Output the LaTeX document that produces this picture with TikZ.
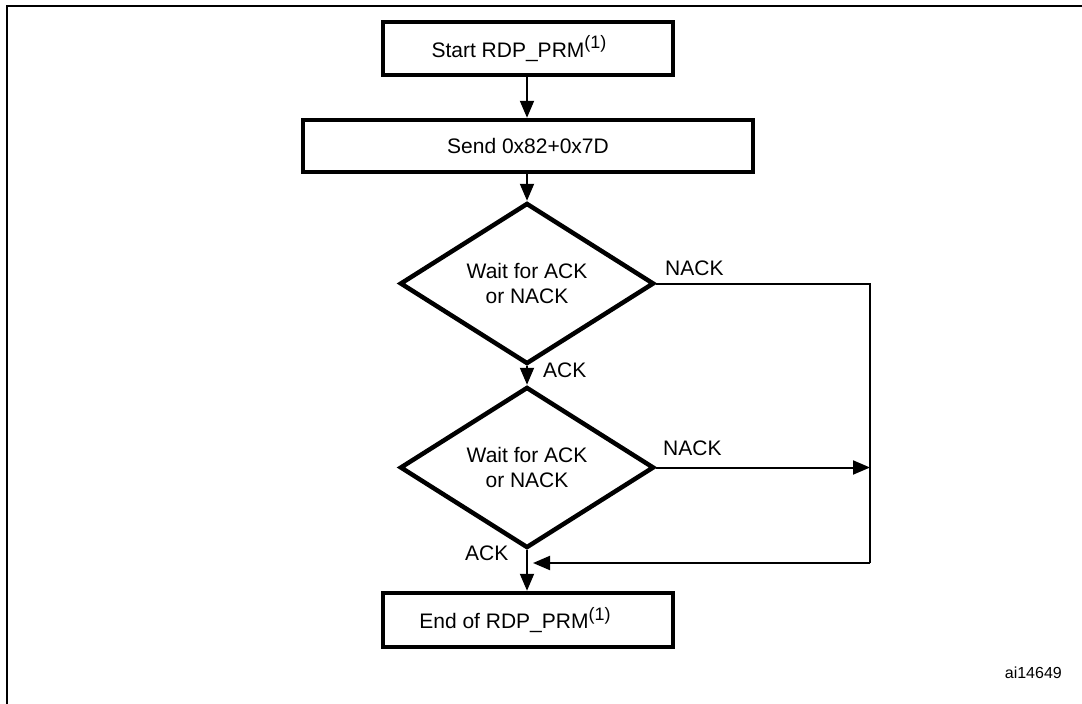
\documentclass[tikz,border=0pt]{standalone}
\usepackage{fontspec}
\setmainfont{Liberation Sans}
\usetikzlibrary{shapes.geometric,arrows.meta}

% raised footnote mark, as used in the box titles
\newcommand{\fnmark}[1]{\raisebox{0.42em}{\fontsize{18}{18}\selectfont(#1)}}

\tikzset{
  box/.style={draw, line width=4.5pt, rectangle, inner sep=0pt, align=center,
              font=\fontsize{21}{26}\selectfont},
  decision/.style={draw, line width=4.5pt, diamond, inner sep=0pt, align=center,
              minimum width=254pt, minimum height=137pt,
              font=\fontsize{21}{25}\selectfont},
  flow/.style={line width=2pt, -{Triangle[length=17pt,width=14pt]}},
  plain/.style={line width=2pt},
  lbl/.style={anchor=base west, inner sep=0pt, font=\fontsize{21}{25}\selectfont},
}

\begin{document}
\begin{tikzpicture}[x=1pt,y=-1pt]
  \useasboundingbox (0,0) rectangle (1082,704);

  % open frame (top and left edges)
  \draw[line width=2.4pt] (7,704) -- (7,6) -- (1083,6);

  % process steps
  \node[box, minimum width=290pt, minimum height=53pt] (start) at (528,48.5)
       {Start RDP\_PRM\fnmark{1}\hspace*{18pt}};
  \node[box, minimum width=450pt, minimum height=52pt] (send) at (528,146)
       {Send 0x82+0x7D};
  \node[decision] (w1) at (527,283.5) {Wait for ACK\\or NACK};
  \node[decision] (w2) at (527,467.5) {Wait for ACK\\or NACK};
  \node[box, minimum width=290pt, minimum height=54pt] (end) at (528,620)
       {End of RDP\_PRM\fnmark{1}\hspace*{26pt}};

  % routing points on the right-hand return path
  \coordinate (r1) at (870,283.5);
  \coordinate (r2) at (870,467.5);
  \coordinate (r3) at (870,563);
  \coordinate (m3) at (533,563);

  % connectors
  \draw[flow] (start.south -| 527,0) -- (send.north -| 527,0);
  \draw[flow] (send.south -| 527,0) -- (w1.north);
  \draw[flow] (w1.south) -- (w2.north);
  \draw[flow] (w2.south) -- (end.north -| w2.south);
  \draw[plain] (w1.east) -- (r1) -- (r3);
  \draw[flow] (w2.east) -- (r2);
  \draw[flow] (r3) -- (m3);

  % branch labels
  \node[lbl] (n1) at (665,275) {NACK};
  \node[lbl] (a1) at (543,377) {ACK};
  \node[lbl] (n2) at (663,455) {NACK};
  \node[lbl] (a2) at (465,560) {ACK};

  % figure id
  \node[anchor=base east, inner sep=0pt, font=\fontsize{16}{19}\selectfont] (id) at (1062,678) {ai14649};
\end{tikzpicture}
\end{document}
